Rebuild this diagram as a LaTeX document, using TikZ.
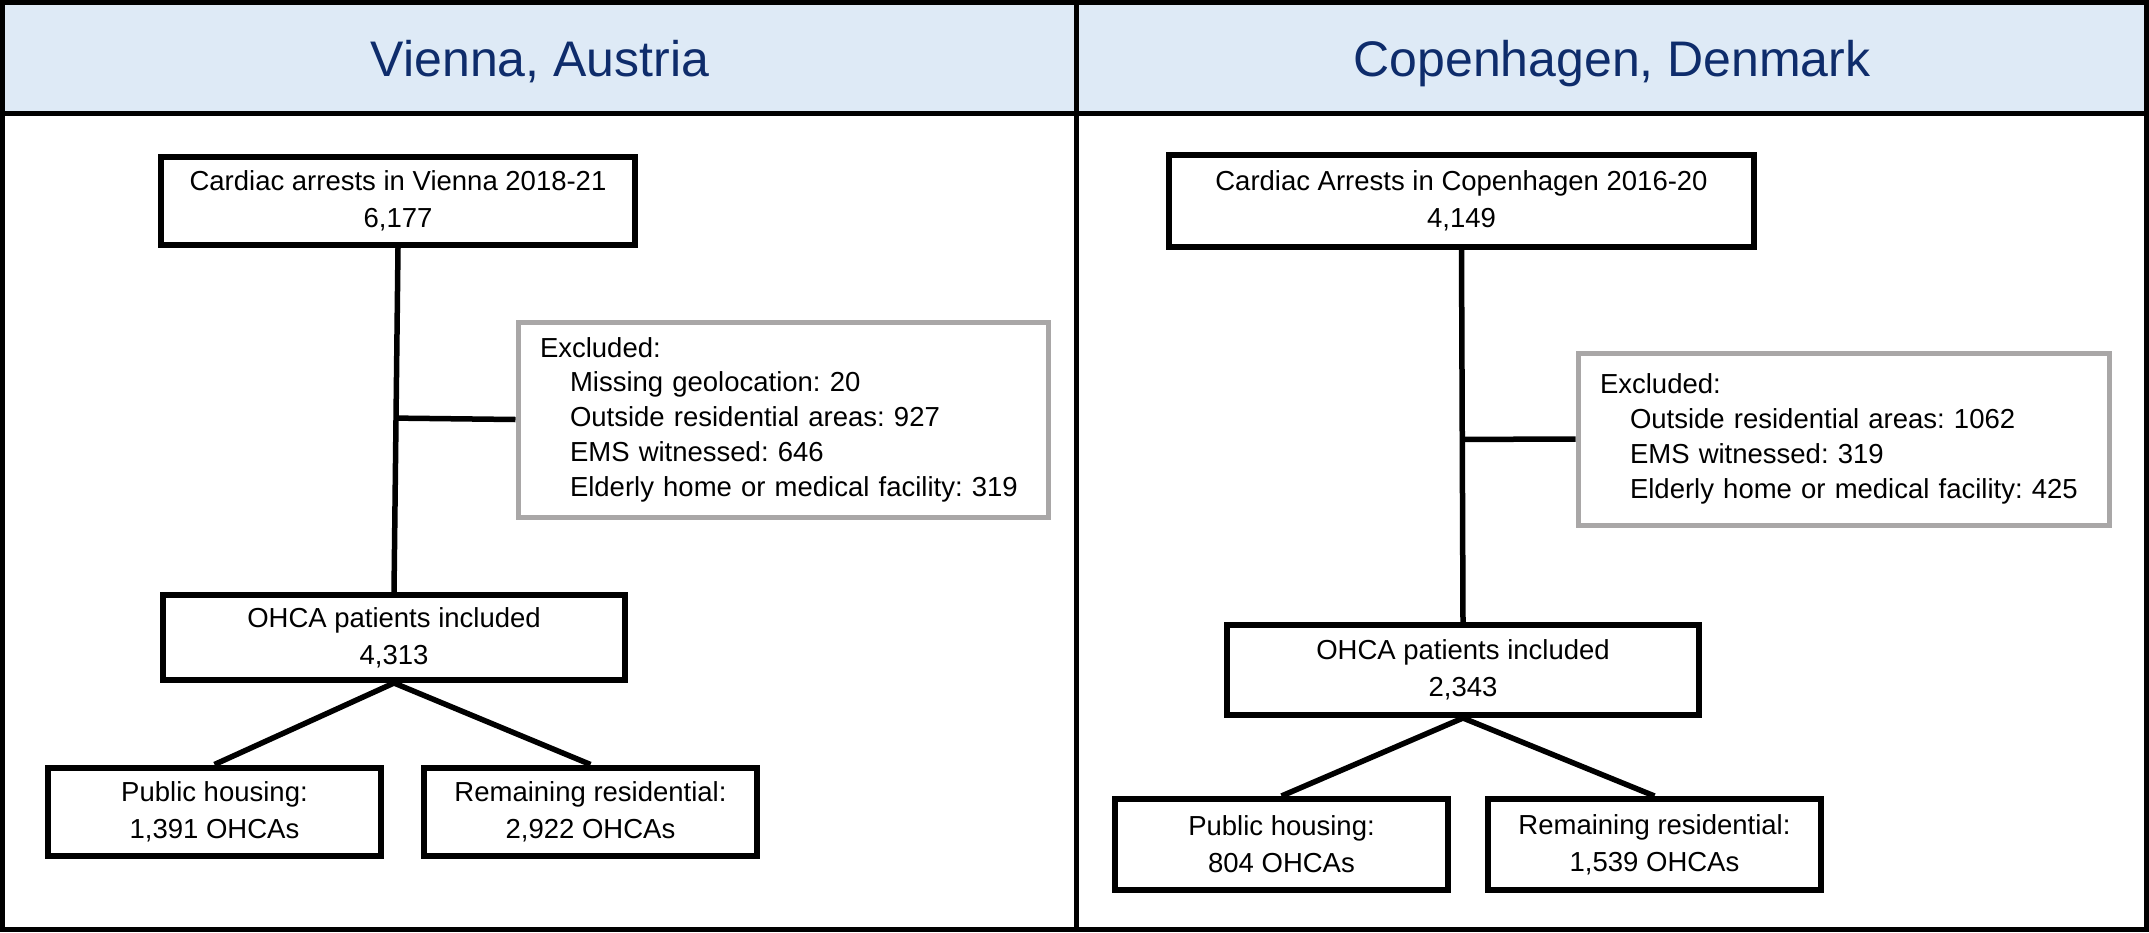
\documentclass[tikz,border=0pt]{standalone}
\usepackage{fontspec}
\setmainfont{Liberation Sans}
\usetikzlibrary{calc}
\definecolor{hdrfill}{HTML}{DEEAF6}
\definecolor{navy}{HTML}{0E2C6B}
\definecolor{exgray}{HTML}{A9A7A7}
\frenchspacing
\newcommand{\exfirst}{\hspace*{22pt}}
\newcommand{\exitem}{\hspace*{52pt}}
\begin{document}
\begin{tikzpicture}[x=1pt,y=-1pt,
  flowbox/.style={draw=black, line width=6pt, fill=white, align=center, inner sep=0pt,
    font=\fontsize{27.5}{37}\selectfont},
  exbox/.style={draw=exgray, line width=5pt, fill=white, align=left, inner sep=0pt,
    font=\fontsize{27.5}{34.8}\selectfont},
  conn/.style={line width=5.5pt},
  framestyle/.style={line width=5pt},
  titlestyle/.style={font=\fontsize{50}{60}\selectfont, text=navy, anchor=base, inner sep=0pt}]

\useasboundingbox (0,0) rectangle (2149,932);
\fill[hdrfill] (0,0) rectangle (2149,113);
\draw[framestyle] (0,113.5) -- (2149,113.5);
\draw[framestyle] (1076.5,0) -- (1076.5,932);
\draw[framestyle] (2.5,2.5) rectangle (2146.5,929.5);

\node[titlestyle] (tV) at (540,76) {Vienna, Austria};
\node[titlestyle] (tC) at (1612,76) {Copenhagen, Denmark};

% Vienna
\node[flowbox, minimum width=474pt, minimum height=88pt] (topV) at (398,201)
  {Cardiac arrests in Vienna 2018-21\\6,177};
\node[exbox, minimum height=195pt, text width=530pt] (exV) at (783,419.5)
  {\exfirst Excluded:\\
   \exitem Missing geolocation: 20\\
   \exitem Outside residential areas: 927\\
   \exitem EMS witnessed: 646\\
   \exitem Elderly home or medical facility: 319};
\node[flowbox, minimum width=462pt, minimum height=85pt] (ohcaV) at (394,637.5)
  {OHCA patients included\\4,313};
\node[flowbox, minimum width=333pt, minimum height=88pt] (pubV) at (214.5,811.5)
  {Public housing:\\1,391 OHCAs};
\node[flowbox, minimum width=333pt, minimum height=88pt] (remV) at (590.5,811.5)
  {Remaining residential:\\2,922 OHCAs};

\draw[conn] (topV.south) -- (ohcaV.north);
\draw[conn] ($(topV.south)!(exV.west)!(ohcaV.north)$) -- (exV.west);
\draw[conn] (ohcaV.south) -- (pubV.north);
\draw[conn] (ohcaV.south) -- (remV.north);

% Copenhagen
\node[flowbox, minimum width=585pt, minimum height=92pt] (topC) at (1461.5,201)
  {Cardiac Arrests in Copenhagen 2016-20\\4,149};
\node[exbox, minimum height=172pt, text width=531pt] (exC) at (1843.5,439)
  {\exfirst Excluded:\\
   \exitem Outside residential areas: 1062\\
   \exitem EMS witnessed: 319\\
   \exitem Elderly home or medical facility: 425};
\node[flowbox, minimum width=472pt, minimum height=90pt] (ohcaC) at (1463,670)
  {OHCA patients included\\2,343};
\node[flowbox, minimum width=333pt, minimum height=91pt] (pubC) at (1281.5,844.5)
  {Public housing:\\804 OHCAs};
\node[flowbox, minimum width=333pt, minimum height=91pt] (remC) at (1654.5,844.5)
  {Remaining residential:\\1,539 OHCAs};

\draw[conn] (topC.south) -- (ohcaC.north);
\draw[conn] ($(topC.south)!(exC.west)!(ohcaC.north)$) -- (exC.west);
\draw[conn] (ohcaC.south) -- (pubC.north);
\draw[conn] (ohcaC.south) -- (remC.north);
\end{tikzpicture}
\end{document}
